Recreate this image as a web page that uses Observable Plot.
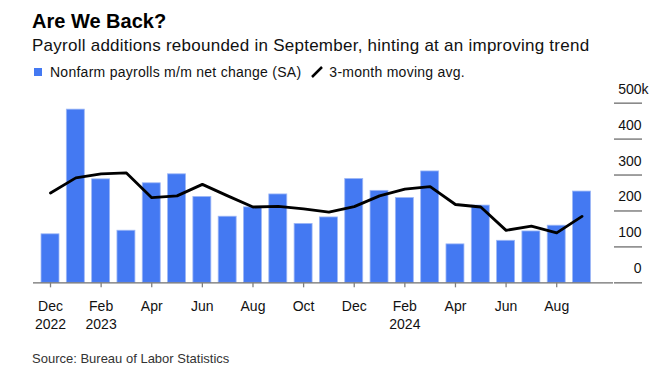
<!DOCTYPE html>
<html>
<head>
<meta charset="utf-8">
<script src="https://cdn.jsdelivr.net/npm/d3@7"></script>
<script src="https://cdn.jsdelivr.net/npm/@observablehq/plot@0.6"></script>
<style>
  html, body { margin: 0; padding: 0; background: #fff; }
  body { width: 661px; height: 373px; position: relative; overflow: hidden;
         font-family: "Liberation Sans", Arial, Helvetica, sans-serif; color: #000; }
  .abs { position: absolute; white-space: nowrap; line-height: 1; }
  #title { left: 32px; top: 10.8px; font-size: 20px; font-weight: bold; }
  #subtitle { left: 32px; top: 37.3px; font-size: 17px; letter-spacing: 0.25px; color: #111; }
  #legend { left: 34px; top: 64.8px; font-size: 14px; letter-spacing: 0.26px; color: #111; display: flex; align-items: center; }
  #legend .sw { width: 8px; height: 8px; background: #4479f2; margin-right: 8px; }
  #legend .ln { width: 14px; height: 12px; margin: 0 5px 0 9px; }
  #source { left: 32px; top: 351.7px; font-size: 13px; color: #333; }
  #chart { position: absolute; left: 0; top: 80px; }
</style>
</head>
<body>
<div id="title" class="abs">Are We Back?</div>
<div id="subtitle" class="abs">Payroll additions rebounded in September, hinting at an improving trend</div>
<div id="legend" class="abs"><span class="sw"></span><span>Nonfarm payrolls m/m net change (SA)</span><svg class="ln" viewBox="0 0 14 12"><line x1="2" y1="11" x2="12" y2="1" stroke="#000" stroke-width="2.5"/></svg><span>3-month moving avg.</span></div>
<div id="chart"></div>
<div id="source" class="abs">Source: Bureau of Labor Statistics</div>
<script>
// Data (thousands), Dec 2022 – Sep 2024
const months = ["2022-12","2023-01","2023-02","2023-03","2023-04","2023-05","2023-06","2023-07","2023-08","2023-09","2023-10","2023-11",
                "2023-12","2024-01","2024-02","2024-03","2024-04","2024-05","2024-06","2024-07","2024-08","2024-09"];
const payrolls = [135, 482, 288, 145, 277, 302, 239, 184, 210, 246, 164, 182,
                  289, 256, 236, 310, 107, 215, 117, 143, 159, 254];
const movingAvg = [250, 292, 303, 306, 237, 242, 274, 242, 211, 213, 206, 197,
                   212, 242, 261, 268, 218, 211, 146, 158, 139, 185];
const xTickMonths = ["2022-12","2023-02","2023-04","2023-06","2023-08","2023-10","2023-12","2024-02","2024-04","2024-06","2024-08"];
const xTickLabels = ["Dec\n2022","Feb\n2023","Apr","Jun","Aug","Oct","Dec","Feb\n2024","Apr","Jun","Aug"];
const yTicks = [0, 100, 200, 300, 400, 500];
const yTickLabels = ["0", "100", "200", "300", "400", "500k"];

const data = months.map((m, i) => ({month: m, idx: i, value: payrolls[i], avg: movingAvg[i]}));
const tickIdx = xTickMonths.map(m => months.indexOf(m));
const labelOf = new Map(tickIdx.map((t, i) => [t, xTickLabels[i]]));
const yLabels = yTicks.map((v, i) => ({v, label: yTickLabels[i]}));
const half = 0.355;
const font = '"Liberation Sans", Arial, Helvetica, sans-serif';

const chart = Plot.plot({
  width: 661,
  height: 255,
  marginLeft: 33,
  marginRight: 48,
  marginTop: 22.67,
  marginBottom: 52.67,
  style: {fontFamily: font, fontSize: "14px", color: "#111", background: "transparent"},
  x: {type: "linear", domain: [-0.672, 22.244], axis: null, label: null},
  y: {domain: [0, 500], axis: null, label: null},
  marks: [
    Plot.rectY(data, {x1: d => d.idx - half, x2: d => d.idx + half, y: "value", fill: "#4479f2", stroke: "#9db7f6", strokeWidth: 0.8}),
    Plot.ruleY([0], {stroke: "#6f6f6f", strokeWidth: 1.4}),
    Plot.line(data, {x: "idx", y: "avg", stroke: "#000", strokeWidth: 2.8, strokeLinejoin: "round"}),
    Plot.axisY(yTicks, {anchor: "right", tickSize: 28, stroke: "#808080", strokeWidth: 1.5, tickFormat: () => "", label: null}),
    Plot.text(yLabels.filter(d => d.v < 500), {y: "v", text: "label", frameAnchor: "right", dx: 28, dy: -14, textAnchor: "end", fontSize: 14, fill: "#111"}),
    Plot.text(yLabels.filter(d => d.v === 500), {y: "v", text: "label", frameAnchor: "right", dx: 35, dy: -14, textAnchor: "end", fontSize: 14, fill: "#111"}),
    Plot.axisX(tickIdx, {anchor: "bottom", tickSize: 5, tickPadding: 11, stroke: "#808080", strokeWidth: 1.3, fontSize: 14, lineHeight: 1.26, fill: "#111", label: null, tickFormat: t => labelOf.get(t)})
  ]
});
document.getElementById("chart").appendChild(chart);
</script>
</body>
</html>
